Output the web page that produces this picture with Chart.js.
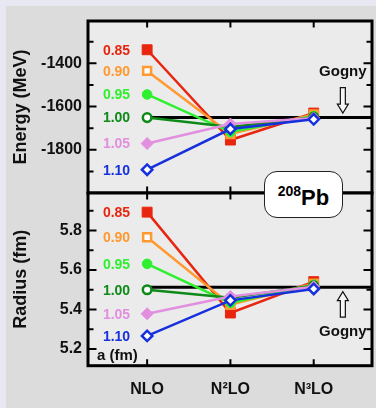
<!DOCTYPE html>
<html>
<head>
<meta charset="utf-8">
<script src="https://cdn.jsdelivr.net/npm/chart.js@4.4.0/dist/chart.umd.min.js"></script>
<style>
  body {
    margin: 0;
    width: 376px;
    height: 408px;
    background: #e8e8f3;
    position: relative;
    overflow: hidden;
    font-family: "Liberation Sans", Arial, sans-serif;
  }
  #panel { position: absolute; left: 6px; top: 6px; right: 0; bottom: 0; background: #dcdcdc; }
  #topWrap { position: absolute; left: 0; top: 0; }
  #bottomWrap { position: absolute; left: 0; top: 186px; }
  canvas { display: block; }
  #nucleus {
    position: absolute;
    left: 264px;
    top: 171px;
    width: 77px;
    height: 45px;
    border: 1.5px solid #222;
    border-radius: 13px;
    background: #fff;
    z-index: 5;
    text-align: center;
    font-weight: bold;
    font-size: 22px;
    line-height: 52px;
    color: #000;
  }
  #nucleus sup { font-size: 14px; vertical-align: 9px; line-height: 0; }
</style>
</head>
<body>
<div id="panel"></div>
<div id="topWrap"><canvas id="energyChart" width="376" height="200"></canvas></div>
<div id="bottomWrap"><canvas id="radiusChart" width="376" height="222"></canvas></div>
<div id="nucleus"><sup>208</sup>Pb</div>

<script>
// Data
const categories = ['NLO', 'N²LO', 'N³LO'];
const categoryX = [1, 2, 3];
const cutoffs = ['0.85', '0.90', '0.95', '1.00', '1.05', '1.10'];

// Energy (MeV) per cutoff a, at NLO / N2LO / N3LO
const energy085 = [-1337, -1755, -1630];
const energy090 = [-1435, -1727, -1636];
const energy095 = [-1544, -1718, -1644];
const energy100 = [-1651, -1695, -1649];
const energy105 = [-1771, -1681, -1653];
const energy110 = [-1892, -1704, -1659];
const energyGogny = -1651;

// Radius (fm) per cutoff a
const radius085 = [5.893, 5.382, 5.541];
const radius090 = [5.766, 5.424, 5.530];
const radius095 = [5.631, 5.433, 5.525];
const radius100 = [5.500, 5.459, 5.520];
const radius105 = [5.378, 5.466, 5.515];
const radius110 = [5.266, 5.446, 5.504];
const radiusGogny = 5.513;

// Tick values
const energyTicks = [-1800, -1600, -1400];
const energyMinor = [-1900, -1700, -1500, -1300];
const radiusTicks = [5.2, 5.4, 5.6, 5.8];
const radiusMinor = [5.3, 5.5, 5.7, 5.9];

// Styles
const colors = ['#e8250f', '#ff9930', '#2ef02e', '#0d8a18', '#e28fe0', '#1530dc'];
const shapes = ['rect', 'rect', 'circle', 'circle', 'rectRot', 'rectRot'];
const filled = [true, false, true, false, true, false];
const radii = [7, 5.6, 4.8, 4.3, 6, 5.2];
const xMin = 0.29;
const xMax = 3.7;
const FONT = '"Liberation Sans", Arial, sans-serif';

// Build the datasets for one panel
function buildDatasets(seriesList, gogny) {
    const sets = seriesList.map((values, i) => ({
        label: cutoffs[i],
        data: values.map((v, j) => ({x: categoryX[j], y: v})),
        borderColor: colors[i],
        backgroundColor: filled[i] ? colors[i] : '#ffffff',
        pointBackgroundColor: filled[i] ? colors[i] : '#ffffff',
        pointBorderColor: colors[i],
        pointBorderWidth: filled[i] ? 1 : 2.5,
        pointStyle: shapes[i],
        pointRadius: radii[i],
        borderWidth: 2.5,
        tension: 0,
        order: 6 - i
    }));
    // Gogny reference runs from the NLO column to the right edge
    sets.push({
        label: 'Gogny',
        data: [{x: categoryX[0], y: gogny}, {x: xMax, y: gogny}],
        borderColor: '#000',
        borderWidth: 3,
        pointRadius: 0,
        order: 10
    });
    return sets;
}

// Plot background, inward ticks and frame
const framePlugin = {
    id: 'frame',
    beforeDraw(chart) {
        const {ctx, chartArea: a} = chart;
        ctx.save();
        ctx.fillStyle = '#ebebeb';
        ctx.fillRect(a.left, a.top, a.right - a.left, a.bottom - a.top);
        ctx.restore();
    },
    afterDraw(chart) {
        const {ctx, chartArea: a, scales} = chart;
        const opts = chart.options.plugins.frame;
        ctx.save();
        ctx.strokeStyle = '#000';
        ctx.lineWidth = 2;
        const yTick = (v, len) => {
            const py = scales.y.getPixelForValue(v);
            ctx.beginPath();
            ctx.moveTo(a.left, py); ctx.lineTo(a.left + len, py);
            ctx.moveTo(a.right, py); ctx.lineTo(a.right - len, py);
            ctx.stroke();
        };
        opts.major.forEach(v => yTick(v, 8.5));
        opts.minor.forEach(v => yTick(v, 5.5));
        categoryX.forEach(v => {
            const px = scales.x.getPixelForValue(v);
            ctx.beginPath();
            ctx.moveTo(px, a.top); ctx.lineTo(px, a.top + 6.5);
            ctx.moveTo(px, a.bottom); ctx.lineTo(px, a.bottom - 6.5);
            ctx.stroke();
        });
        ctx.lineWidth = 3;
        ctx.strokeRect(a.left, a.top, a.right - a.left, a.bottom - a.top);
        ctx.restore();
    }
};

// Cutoff labels, Gogny note and arrow
const notesPlugin = {
    id: 'notes',
    afterDatasetsDraw(chart) {
        const {ctx, chartArea: a, scales} = chart;
        const opts = chart.options.plugins.notes;
        ctx.save();
        // cutoff labels left of the NLO points
        ctx.font = 'bold 14px ' + FONT;
        ctx.textAlign = 'right';
        ctx.textBaseline = 'middle';
        cutoffs.forEach((c, i) => {
            const pt = chart.getDatasetMeta(i).data[0];
            ctx.fillStyle = colors[i];
            ctx.fillText(c, pt.x - 17, pt.y + 1);
        });

        // Gogny label with hollow arrow
        const gx = scales.x.getPixelForValue(3.35);
        const gy = scales.y.getPixelForValue(opts.gogny);
        const dir = opts.arrowDown ? 1 : -1;
        const tipY = gy - dir * 4.5;
        const tailY = gy - dir * 30;
        const headY = tipY - dir * 9;
        ctx.fillStyle = '#111';
        ctx.textAlign = 'center';
        ctx.textBaseline = 'alphabetic';
        ctx.font = 'bold 15px ' + FONT;
        ctx.fillText('Gogny', gx, opts.arrowDown ? gy - 42 : gy + 49);

        ctx.beginPath();
        ctx.moveTo(gx - 2.5, tailY);
        ctx.lineTo(gx + 2.5, tailY);
        ctx.lineTo(gx + 2.5, headY);
        ctx.lineTo(gx + 5.5, headY);
        ctx.lineTo(gx, tipY);
        ctx.lineTo(gx - 5.5, headY);
        ctx.lineTo(gx - 2.5, headY);
        ctx.closePath();
        ctx.fillStyle = '#f6f6f6';
        ctx.fill();
        ctx.strokeStyle = '#111';
        ctx.lineWidth = 1.2;
        ctx.stroke();

        if (opts.unitNote) {
            ctx.fillStyle = '#111';
            ctx.textAlign = 'left';
            ctx.font = 'bold 15px ' + FONT;
            ctx.fillText(opts.unitNote, a.left + 9, a.bottom - 6);
        }
        ctx.restore();
    }
};

function makeChart(canvasId, seriesList, gogny, cfg) {
    const ctx = document.getElementById(canvasId).getContext('2d');
    return new Chart(ctx, {
        type: 'line',
        data: {datasets: buildDatasets(seriesList, gogny)},
        options: {
            responsive: false,
            animation: false,
            events: [],
            layout: {padding: cfg.padding, autoPadding: false},
            plugins: {
                legend: {display: false},
                tooltip: {enabled: false},
                frame: {major: cfg.major, minor: cfg.minor},
                notes: {gogny: gogny, arrowDown: cfg.arrowDown, unitNote: cfg.unitNote}
            },
            scales: {
                x: {
                    type: 'linear',
                    min: xMin,
                    max: xMax,
                    display: cfg.showX,
                    grid: {display: false, drawTicks: false},
                    border: {display: false},
                    afterBuildTicks: scale => { scale.ticks = categoryX.map(v => ({value: v})); },
                    afterFit: scale => {
                        if (cfg.showX) scale.height = 42.3;
                        scale.paddingLeft = 0;
                        scale.paddingRight = 0;
                    },
                    ticks: {
                        color: '#111',
                        padding: 14,
                        font: {family: FONT, size: 16, weight: 'bold'},
                        callback: v => categories[categoryX.indexOf(v)]
                    }
                },
                y: {
                    type: 'linear',
                    min: cfg.min,
                    max: cfg.max,
                    grid: {display: false, drawTicks: false},
                    border: {display: false},
                    afterBuildTicks: scale => { scale.ticks = cfg.major.map(v => ({value: v})); },
                    afterFit: scale => {
                        scale.width = 88;
                        scale.paddingTop = 0;
                        scale.paddingBottom = 0;
                    },
                    ticks: {
                        color: '#111',
                        padding: 6,
                        font: {family: FONT, size: 16, weight: 'bold'},
                        callback: cfg.format
                    },
                    title: {
                        display: true,
                        text: cfg.title,
                        color: '#111',
                        padding: {top: 10, bottom: 0},
                        font: {family: FONT, size: 18, weight: 'bold'}
                    }
                }
            }
        },
        plugins: [framePlugin, notesPlugin]
    });
}

makeChart('energyChart',
    [energy085, energy090, energy095, energy100, energy105, energy110],
    energyGogny, {
        min: -2000, max: -1204,
        major: energyTicks, minor: energyMinor,
        title: 'Energy (MeV)',
        format: v => String(v),
        padding: {top: 21, right: 4, bottom: 7, left: 0},
        showX: false,
        arrowDown: true
    });

makeChart('radiusChart',
    [radius085, radius090, radius095, radius100, radius105, radius110],
    radiusGogny, {
        min: 5.115, max: 5.99,
        major: radiusTicks, minor: radiusMinor,
        title: 'Radius (fm)',
        format: v => v.toFixed(1),
        padding: {top: 7, right: 4, bottom: 0, left: 0},
        showX: true,
        arrowDown: false,
        unitNote: 'a (fm)'
    });
</script>
</body>
</html>
